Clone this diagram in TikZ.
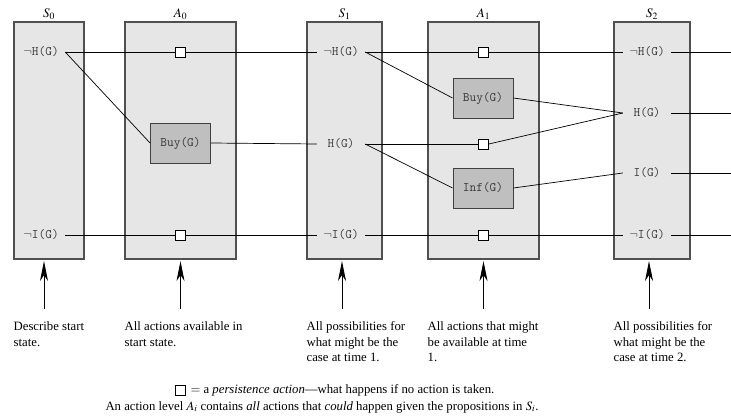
\documentclass[tikz,border=0pt]{standalone}
\usepackage{amsmath,amssymb}
\usepackage{mathptmx}
\usepackage[no-math]{fontspec}
\setmainfont{Liberation Serif}
\usepackage{tikz}
\usetikzlibrary{arrows.meta,positioning,calc}
\definecolor{lvlfill}{RGB}{230,230,230}
\definecolor{lvldraw}{RGB}{80,80,80}
\definecolor{actfill}{RGB}{191,191,191}
\definecolor{actdraw}{RGB}{64,64,64}
\definecolor{proptext}{RGB}{55,55,55}
\tikzset{
  % level column (state or action level)
  lvlbox/.style={rectangle, draw=lvldraw, fill=lvlfill, line width=1.1pt, minimum height=237pt,
                 minimum width=#1, inner sep=0pt},
  lvlbox/.default={75pt},
  % level name above the column
  lvlname/.style={anchor=south, inner sep=2pt, font=\fontsize{13}{15}\selectfont},
  % proposition literal
  prop/.style={inner sep=2pt, minimum width=48pt, text=proptext, font=\fontsize{13}{15}\ttfamily},
  % real action box
  actbox/.style={rectangle, draw=actdraw, fill=actfill, line width=0.9pt, minimum width=60pt,
                 minimum height=40pt, text=proptext, font=\fontsize{13}{15}\ttfamily},
  % persistence action (no-op)
  persist/.style={rectangle, draw=black, fill=white, line width=0.7pt, minimum size=10pt, inner sep=0pt},
  % link between levels
  link/.style={black, line width=0.7pt},
  % explanation arrow
  uparrow/.style={-{Stealth[length=20pt,width=8pt,inset=6pt]}, line width=0.8pt, shorten >=1.5pt},
  % explanation text
  note/.style={anchor=north west, inner sep=0pt, align=left, font=\fontsize{12.75}{15.5}\selectfont},
}

\begin{document}
\begin{tikzpicture}[x=1pt, y=-1pt]
  \useasboundingbox (0,0) rectangle (731,417);

  % ── level columns ──
  \node[lvlbox=70pt]  (s0) at (49,140.5) {};
  \node[lvlbox=111pt] (a0) at (180.5,140.5) {};
  \node[lvlbox=75pt]  (s1) at (344.5,140.5) {};
  \node[lvlbox=111pt] (a1) at (483.5,140.5) {};
  \node[lvlbox=76pt]  (s2) at (652,140.5) {};

  \node[lvlname] at (s0.north) {$S_0$};
  \node[lvlname] at (a0.north) {$A_0$};
  \node[lvlname] at (s1.north) {$S_1$};
  \node[lvlname] at (a1.north) {$A_1$};
  \node[lvlname] at (s2.north) {$S_2$};

  % ── S0 ──
  \node[prop] (s0nh) at (41,52) {$\neg$H(G)};
  \node[prop] (s0ni) at (41,235) {$\neg$I(G)};

  % ── A0 ──
  \node[persist] (a0p1) at (180.5,52) {};
  \node[actbox] (a0buy) at (180.5,143) {Buy(G)};
  \node[persist] (a0p2) at (180.5,235) {};

  % ── S1 ──
  \node[prop] (s1nh) at (341,52) {$\neg$H(G)};
  \node[prop] (s1h)  at (341,144) {H(G)};
  \node[prop] (s1ni) at (341,235) {$\neg$I(G)};

  % ── A1 ──
  \node[persist] (a1p1) at (483.5,52) {};
  \node[actbox] (a1buy) at (483,98) {Buy(G)};
  \node[persist] (a1p2) at (483.5,144) {};
  \node[actbox] (a1inf) at (483,188) {Inf(G)};
  \node[persist] (a1p3) at (483.5,235) {};

  % ── S2 ──
  \node[prop] (s2nh) at (647,52) {$\neg$H(G)};
  \node[prop] (s2h)  at (647,113) {H(G)};
  \node[prop] (s2i)  at (647,173) {I(G)};
  \node[prop] (s2ni) at (647,235) {$\neg$I(G)};

  % open ends on the right
  \coordinate (e1) at (731,52);
  \coordinate (e2) at (731,113);
  \coordinate (e3) at (731,173);
  \coordinate (e4) at (731,235);

  % ── links S0 -> A0 -> S1 ──
  \draw[link] (s0nh.east) -- (a0p1.west);
  \draw[link] (a0p1.east) -- (s1nh.west);
  \draw[link] (s0nh.east) -- (a0buy.west);
  \draw[link] (a0buy.east) -- (s1h.west);
  \draw[link] (s0ni.east) -- (a0p2.west);
  \draw[link] (a0p2.east) -- (s1ni.west);

  % ── links S1 -> A1 -> S2 ──
  \draw[link] (s1nh.east) -- (a1p1.west);
  \draw[link] (a1p1.east) -- (s2nh.west);
  \draw[link] (s1nh.east) -- (a1buy.west);
  \draw[link] (a1buy.east) -- (s2h.west);
  \draw[link] (s1h.east) -- (a1p2.west);
  \draw[link] (a1p2.east) -- (s2h.west);
  \draw[link] (s1h.east) -- (a1inf.west);
  \draw[link] (a1inf.east) -- (s2i.west);
  \draw[link] (s1ni.east) -- (a1p3.west);
  \draw[link] (a1p3.east) -- (s2ni.west);

  % S2 onwards
  \draw[link] (s2nh.east) -- (e1);
  \draw[link] (s2h.east) -- (e2);
  \draw[link] (s2i.east) -- (e3);
  \draw[link] (s2ni.east) -- (e4);

  % ── explanations ──
  \coordinate (t0) at (44,309);
  \coordinate (t1) at (180.5,309);
  \coordinate (t2) at (342,309);
  \coordinate (t3) at (483.5,309);
  \coordinate (t4) at (649,309);
  \draw[uparrow] (t0) -- (t0 |- s0.south);
  \draw[uparrow] (t1) -- (t1 |- a0.south);
  \draw[uparrow] (t2) -- (t2 |- s1.south);
  \draw[uparrow] (t3) -- (t3 |- a1.south);
  \draw[uparrow] (t4) -- (t4 |- s2.south);

  \node[note] (n0) at ([yshift=-62pt]s0.south west) {Describe start\\state.};
  \node[note] (n1) at ([yshift=-62pt]a0.south west) {All actions available in\\start state.};
  \node[note] (n2) at ([yshift=-62pt]s1.south west) {All possibilities for\\what might be the\\case at time 1.};
  \node[note] (n3) at ([yshift=-62pt]a1.south west) {All actions that might\\be available at time\\1.};
  \node[note] (n4) at ([yshift=-62pt]s2.south west) {All possibilities for\\what might be the\\case at time 2.};

  % ── legend ──
  \node[persist] (key) at (180,390) {};
  \node[font=\fontsize{12.75}{15}\selectfont, anchor=west, inner sep=0pt] (keytext) at ([xshift=5pt]key.east)
    {$=$ a \emph{persistence action}---what happens if no action is taken.};
  \node[font=\fontsize{12.75}{15}\selectfont, inner sep=0pt] (levelnote) at (322,407)
    {An action level $A_i$ contains \emph{all} actions that \emph{could} happen given the propositions in $S_i$.};

\end{tikzpicture}
\end{document}
